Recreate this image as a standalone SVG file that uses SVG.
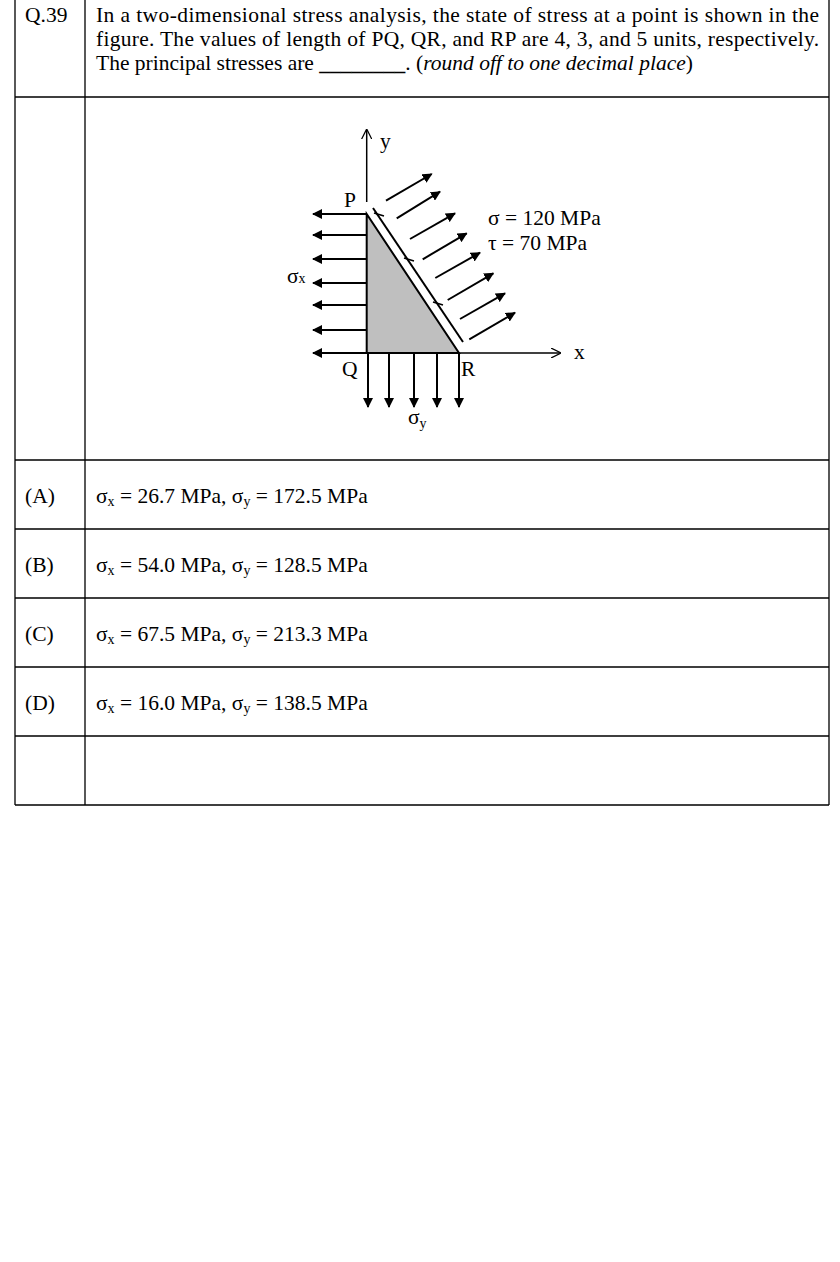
<svg xmlns="http://www.w3.org/2000/svg" width="840" height="1262" viewBox="0 0 840 1262">
<style>
text{font-family:"Liberation Serif","Times New Roman",serif;font-size:21.5px;fill:#000}
.g{stroke:#000;stroke-width:1.3;fill:none}
.a{stroke:#000;stroke-width:2;fill:none}
</style>
<defs>
<marker id="ah" viewBox="0 0 10 10" refX="9" refY="5" markerWidth="5" markerHeight="5" orient="auto"><path d="M0,0L10,5L0,10z" fill="#000"/></marker>
<marker id="oh" viewBox="0 0 10 10" refX="9" refY="5" markerWidth="7" markerHeight="7" orient="auto"><path d="M0,0L10,5L0,10" fill="none" stroke="#000" stroke-width="1.2"/></marker>
</defs>
<rect width="840" height="1262" fill="#fff"/>
<g id="table" class="g">
<path d="M15,0V805M85,0V805M829,0V805M15,97H829M15,460H829M15,529H829M15,598H829M15,667H829M15,736H829M15,805H829"/>
</g>
<g id="question">
<text x="25" y="22">Q.39</text>
<text x="96" y="22" textLength="723" lengthAdjust="spacing">In a two-dimensional stress analysis, the state of stress at a point is shown in the</text>
<text x="96" y="46" textLength="723" lengthAdjust="spacing">figure. The values of length of PQ, QR, and RP are 4, 3, and 5 units, respectively.</text>
<text x="96" y="70">The principal stresses are <tspan font-weight="bold">________</tspan>. (<tspan font-style="italic">round off to one decimal place</tspan>)</text>
</g>
<g id="figure">
<polygon points="366.7,214 366.7,353 459,353" fill="#bfbfbf" stroke="#000" stroke-width="2"/>
<g class="a">
<line x1="366.7" y1="202" x2="366.7" y2="130" marker-end="url(#oh)" stroke-width="1.5"/>
<line x1="459" y1="353" x2="560" y2="353" marker-end="url(#oh)" stroke-width="1.5"/>
<line x1="373" y1="208" x2="463" y2="342"/>
</g>
<g class="a" marker-end="url(#ah)">
<line x1="366" y1="214" x2="313" y2="214"/><line x1="366" y1="235" x2="313" y2="235"/>
<line x1="366" y1="259" x2="313" y2="259"/><line x1="366" y1="283" x2="313" y2="283"/>
<line x1="366" y1="305" x2="313" y2="305"/><line x1="366" y1="330" x2="313" y2="330"/>
<line x1="366" y1="353" x2="313" y2="353"/>
<line x1="368" y1="353" x2="368" y2="407"/><line x1="389" y1="353" x2="389" y2="407"/>
<line x1="414" y1="353" x2="414" y2="407"/><line x1="437" y1="353" x2="437" y2="407"/>
<line x1="459" y1="353" x2="459" y2="407"/>
<line x1="386" y1="200.7" x2="431.7" y2="174"/><line x1="396.7" y1="218.3" x2="440" y2="191.7"/>
<line x1="410" y1="239" x2="455" y2="213.3"/><line x1="422.7" y1="259.3" x2="466.7" y2="233.3"/>
<line x1="435.3" y1="278" x2="480" y2="252.7"/><line x1="447.7" y1="300" x2="493.3" y2="273.3"/>
<line x1="460" y1="319" x2="505" y2="293.3"/><line x1="469.3" y1="339.3" x2="515" y2="312.7"/>
</g>
<g stroke="#000" stroke-width="1.5" fill="none">
<path d="M384,216L374,213"/><path d="M414,261L404,258"/><path d="M443,305L433,302"/>
</g>
<text x="380" y="148">y</text>
<text x="344" y="207">P</text>
<text x="342" y="376">Q</text>
<text x="461" y="376">R</text>
<text x="574" y="359">x</text>
<text x="287" y="283">σ<tspan font-size="14" dy="0">x</tspan></text>
<text x="408" y="424">σ<tspan font-size="14" dy="4">y</tspan></text>
<text x="488" y="225">σ = 120 MPa</text>
<text x="488" y="250">τ = 70 MPa</text>
</g>
<g id="options">
<text x="25" y="503">(A)</text><text x="96" y="503">σ<tspan font-size="14" dy="3">x</tspan><tspan dy="-3"> = 26.7 MPa, σ</tspan><tspan font-size="14" dy="3">y</tspan><tspan dy="-3"> = 172.5 MPa</tspan></text>
<text x="25" y="572">(B)</text><text x="96" y="572">σ<tspan font-size="14" dy="3">x</tspan><tspan dy="-3"> = 54.0 MPa, σ</tspan><tspan font-size="14" dy="3">y</tspan><tspan dy="-3"> = 128.5 MPa</tspan></text>
<text x="25" y="641">(C)</text><text x="96" y="641">σ<tspan font-size="14" dy="3">x</tspan><tspan dy="-3"> = 67.5 MPa, σ</tspan><tspan font-size="14" dy="3">y</tspan><tspan dy="-3"> = 213.3 MPa</tspan></text>
<text x="25" y="710">(D)</text><text x="96" y="710">σ<tspan font-size="14" dy="3">x</tspan><tspan dy="-3"> = 16.0 MPa, σ</tspan><tspan font-size="14" dy="3">y</tspan><tspan dy="-3"> = 138.5 MPa</tspan></text>
</g>
</svg>
